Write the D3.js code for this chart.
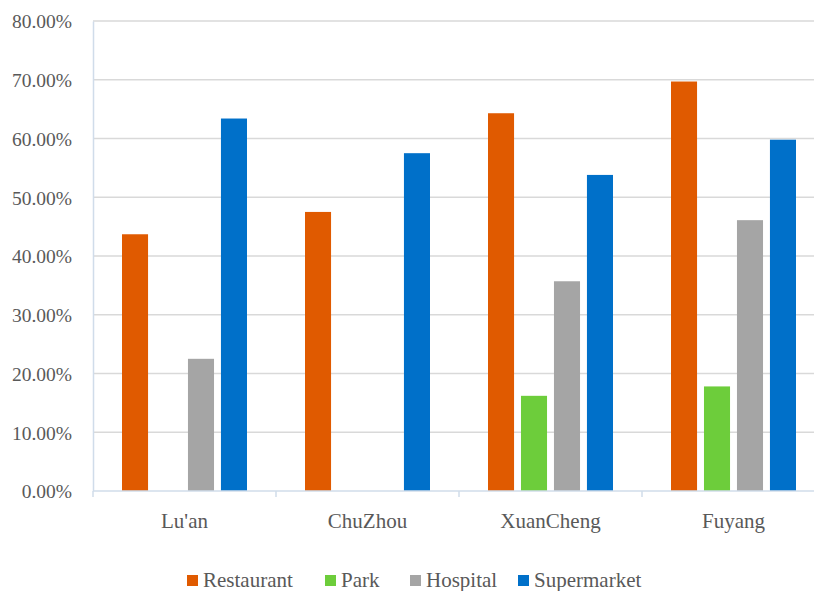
<!DOCTYPE html>
<html>
  <head>
    <meta charset='utf-8'>
    <title></title>
    <script src='https://d3js.org/d3.v7.min.js'></script>
    <style>
      body { margin: 0; background: #fff; }
      svg { display: block; }
      .grid line { stroke: #d9d9d9; stroke-width: 1.5px; }
    </style>
  </head>
  <body>
  <script type='text/javascript'>
    var cities = ["Lu'an", 'ChuZhou', 'XuanCheng', 'Fuyang'];
    var series = ['Restaurant', 'Park', 'Hospital', 'Supermarket'];
    var colors = ['#e05a00', '#6dcd3b', '#a5a5a5', '#0070c9'];
    var restaurant = [0.437, 0.475, 0.643, 0.697];
    var park = [0, 0, 0.162, 0.178];
    var hospital = [0.225, 0, 0.357, 0.461];
    var supermarket = [0.634, 0.575, 0.538, 0.598];
    var yTicks = [0, 0.1, 0.2, 0.3, 0.4, 0.5, 0.6, 0.7, 0.8];

    var values = [restaurant, park, hospital, supermarket];
    var serif = "'Liberation Serif', 'DejaVu Serif', serif";

    var width = 814, height = 591;
    var margin = {top: 21, left: 93, bottom: 100};
    var plotRight = 825;

    var svg = d3.select('body').append('svg')
      .attr('width', width)
      .attr('height', height);

    var x0 = d3.scaleBand().domain(cities).range([margin.left, plotRight]).padding(0);
    var x1 = d3.scaleBand().domain(series).range([29, x0.bandwidth() - 29]).paddingInner(0.21);
    var y = d3.scaleLinear().domain([0, 0.8]).range([height - margin.bottom, margin.top]);

    // gridlines
    svg.append('g').attr('class', 'grid')
      .selectAll('line').data(yTicks.slice(1)).enter().append('line')
      .attr('x1', margin.left).attr('x2', plotRight)
      .attr('y1', function(d) { return y(d); })
      .attr('y2', function(d) { return y(d); });

    // left axis
    var yAxis = svg.append('g')
      .attr('transform', 'translate(' + margin.left + ',0)')
      .call(d3.axisLeft(y).tickValues(yTicks).tickFormat(d3.format('.2%')).tickSize(0).tickPadding(21));
    yAxis.select('.domain').attr('stroke', '#d0dcea').attr('stroke-width', 1.5);
    yAxis.selectAll('text')
      .attr('dy', '0.35em')
      .attr('fill', '#595959')
      .style('font-family', serif)
      .style('font-size', '19.5px');

    // bars
    var groups = svg.append('g').selectAll('g').data(cities).enter().append('g')
      .attr('transform', function(d) { return 'translate(' + x0(d) + ',0)'; });

    groups.selectAll('rect')
      .data(function(c, i) { return series.map(function(s, j) { return {s: s, v: values[j][i], c: colors[j]}; }); })
      .enter().append('rect')
      .attr('x', function(d) { return x1(d.s); })
      .attr('width', x1.bandwidth())
      .attr('y', function(d) { return y(d.v); })
      .attr('height', function(d) { return y(0) - y(d.v); })
      .attr('fill', function(d) { return d.c; });

    // bottom axis
    var xAxis = svg.append('g')
      .attr('transform', 'translate(0,' + y(0) + ')');
    xAxis.append('line')
      .attr('x1', margin.left).attr('x2', plotRight)
      .attr('stroke', '#d0dcea').attr('stroke-width', 1.5);
    xAxis.selectAll('.tk').data(cities.concat(['end'])).enter().append('line')
      .attr('class', 'tk')
      .attr('x1', function(d, i) { return margin.left + i * x0.bandwidth(); })
      .attr('x2', function(d, i) { return margin.left + i * x0.bandwidth(); })
      .attr('y1', 0).attr('y2', 6)
      .attr('stroke', '#d0dcea').attr('stroke-width', 1.5);
    xAxis.selectAll('text').data(cities).enter().append('text')
      .attr('x', function(d) { return x0(d) + x0.bandwidth() / 2; })
      .attr('y', 37)
      .attr('text-anchor', 'middle')
      .attr('fill', '#595959')
      .style('font-family', serif)
      .style('font-size', '21px')
      .text(function(d) { return d; });

    // legend
    var legendX = [187, 325, 410, 518];
    var legend = svg.append('g')
      .selectAll('g').data(series).enter().append('g')
      .attr('transform', function(d, i) { return 'translate(' + legendX[i] + ',575)'; });
    legend.append('rect')
      .attr('width', 11).attr('height', 11)
      .attr('fill', function(d, i) { return colors[i]; });
    legend.append('text')
      .attr('x', 16).attr('y', 12)
      .attr('fill', '#595959')
      .style('font-family', serif)
      .style('font-size', '21px')
      .text(function(d) { return d; });
  </script>
  </body>
</html>
